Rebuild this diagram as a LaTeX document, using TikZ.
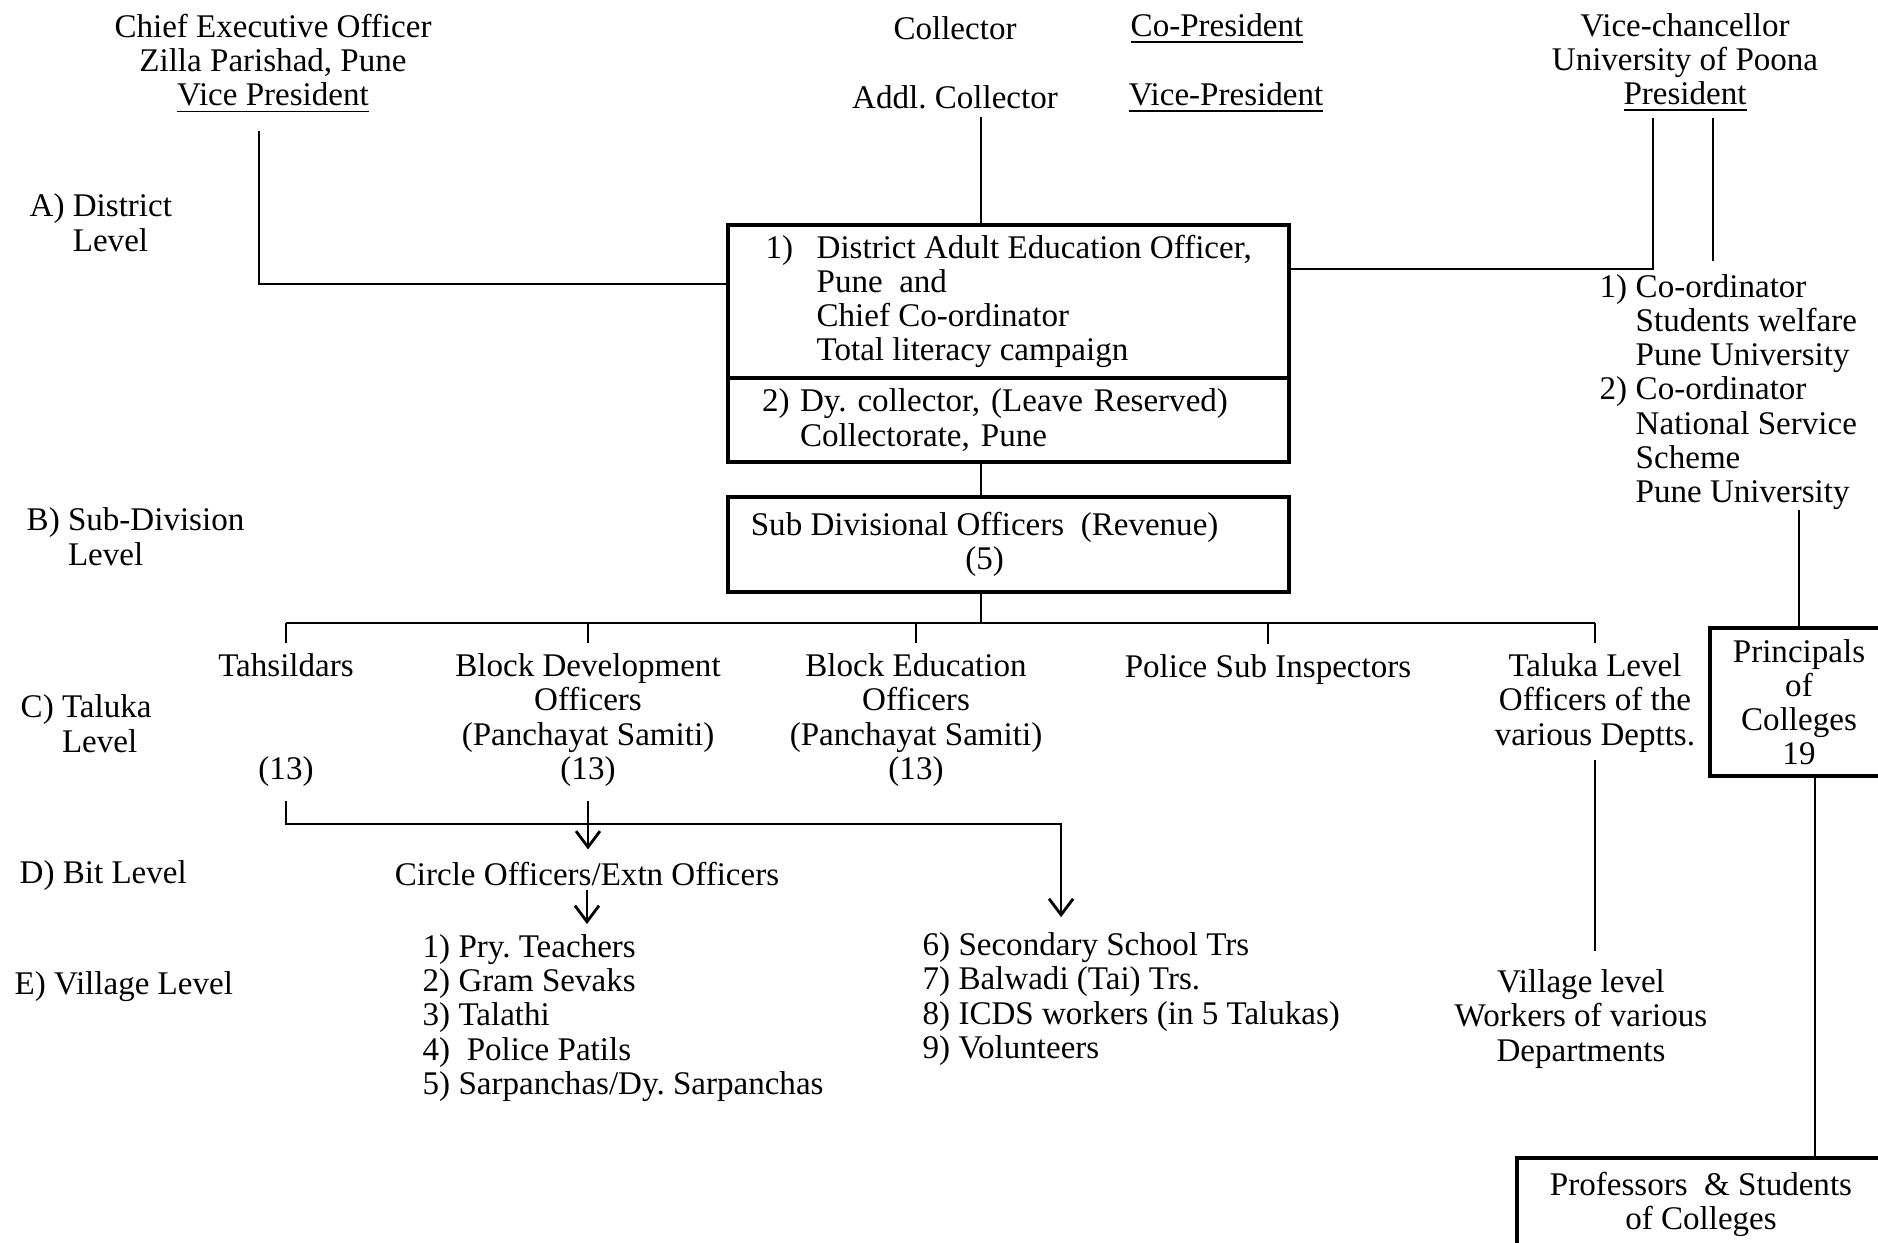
\documentclass[tikz,border=0pt]{standalone}
\usepackage{fontspec}
\setmainfont{Liberation Serif}
\usetikzlibrary{arrows.meta,positioning}
\newcommand{\dtxt}{\fontsize{9.4}{9.7}\selectfont\frenchspacing}
\tikzset{
    lbl/.style =    {inner sep=0pt,
                    align=center,
                    text=black,
                    font=\dtxt},
    lvl/.style =    {lbl,
                    align=left,
                    anchor=west},
    box/.style =    {rectangle,
                    draw=black,
                    very thick,
                    outer sep=0pt,
                    inner ysep=0pt,
                    text=black,
                    font=\dtxt},
    link/.style =   {thick,
                    draw=black},
    >={Straight Barb[length=1.6mm,width=2.4mm]}
}

\begin{document}
\begin{tikzpicture}[x=0.01cm, y=-0.01cm]
    \useasboundingbox (0,0) rectangle (1878,1243);

    % level captions
    \node[lvl] (LA) at (29,226)   {A) District\\\phantom{A) }Level};
    \node[lvl] (LB) at (26,540)   {B) Sub-Division\\\phantom{B) }Level};
    \node[lvl] (LC) at (20,727)   {C) Taluka\\\phantom{C) }Level};
    \node[lvl] (LD) at (19,876)   {D) Bit Level};
    \node[lvl] (LE) at (14,987)   {E) Village Level};

    % heads
    \node[lbl] (CEO) at (273,64)  {Chief Executive Officer\\Zilla Parishad, Pune\\\underline{Vice President}};
    \node[lbl] (COL) at (955,28)  {Collector};
    \node[lbl] (ADC) at (955,97)  {Addl. Collector};
    \node[lbl] (COP) at (1217,29) {\underline{Co-President}};
    \node[lbl] (VPR) at (1226,98) {\underline{Vice-President}};
    \node[lbl] (VC)  at (1685,63) {Vice-chancellor\\University of Poona\\\underline{President}};

    % district boxes
    \node[box, anchor=north west, minimum width=5.61cm, minimum height=1.53cm, align=left]
        (DAEO) at (728,225) {\makebox[5.1mm][l]{1)}District Adult Education Officer,\\
                             \hspace*{5.1mm}Pune\ \ and\\
                             \hspace*{5.1mm}Chief Co-ordinator\\
                             \hspace*{5.1mm}Total literacy campaign};
    \node[box, inner xsep=3.4mm, text width=4.93cm, minimum height=0.84cm, align=left]
        (DYC) [below=0pt of DAEO] {\makebox[3.8mm][l]{2)}Dy. collector, (Leave Reserved)\\
                                   \hspace*{3.8mm}Collectorate, Pune};
    \node[box, minimum width=5.61cm, minimum height=0.95cm, align=center]
        (SDO) [below=3.5mm of DYC] {Sub Divisional Officers\ \ (Revenue)\hspace*{4.8mm}\\(5)\hspace*{4.8mm}};

    \node[lvl] (COORD) at (1599,392) {\makebox[3.6mm][l]{1)}Co-ordinator\\
                                      \hspace*{3.6mm}Students welfare\\
                                      \hspace*{3.6mm}Pune University\\
                                      \makebox[3.6mm][l]{2)}Co-ordinator\\
                                      \hspace*{3.6mm}National Service\\
                                      \hspace*{3.6mm}Scheme\\
                                      \hspace*{3.6mm}Pune University};

    % taluka level
    \node[lbl] (TAH) at (286,720)  {Tahsildars\\[2\baselineskip](13)};
    \node[lbl] (BDO) at (588,720)  {Block Development\\Officers\\(Panchayat Samiti)\\(13)};
    \node[lbl] (BEO) at (916,720)  {Block Education\\Officers\\(Panchayat Samiti)\\(13)};
    \node[lbl] (PSI) at (1268,670) {Police Sub Inspectors};
    \node[lbl] (TLO) at (1595,703) {Taluka Level\\Officers of the\\various Deptts.};
    \node[box, minimum width=1.78cm, minimum height=1.48cm, align=center]
        (PRIN) at (1799,702) {Principals\\of\\Colleges\\19};

    % bit and village level
    \node[lbl] (CIR)   at (587,874)   {Circle Officers/Extn Officers};
    \node[lvl] (LIST1) at (422,1018)  {1) Pry. Teachers\\2) Gram Sevaks\\3) Talathi\\4)\ \ Police Patils\\5) Sarpanchas/Dy. Sarpanchas};
    \node[lvl] (SEC)   at (922,999)   {6) Secondary School Trs\\7) Balwadi (Tai) Trs.\\8) ICDS workers (in 5 Talukas)\\9) Volunteers};
    \node[lbl] (VIL)   at (1581,1019) {Village level\\Workers of various\\Departments};
    \node[box, minimum width=3.68cm, minimum height=0.92cm, align=center]
        (PROF) at (1701,1204) {Professors\ \ \& Students\\of Colleges};

    \coordinate (bus) at (0,623);
    \coordinate (bit) at (0,824);

    % connectors
    \draw[link] ([xshift=-1.4mm,yshift=-1.7mm]CEO.south) |- ([yshift=1.75mm]DAEO.west);
    \draw[link] ([xshift=2.6mm,yshift=-0.8mm]ADC.south) coordinate (c1) -- (c1 |- DAEO.north);
    \draw[link] ([yshift=3.25mm]DAEO.east) -| ([xshift=-3.2mm,yshift=-0.5mm]VC.south);
    \draw[link, shorten >=1.3mm] ([xshift=2.8mm,yshift=-0.5mm]VC.south) coordinate (v2) -- (v2 |- COORD.north);
    \draw[link] (DYC.south -| c1) -- (SDO.north -| c1);
    \draw[link] (SDO.south -| c1) -- (c1 |- bus);
    \draw[link] (TAH.north |- bus) -- (TLO.north |- bus);
    \foreach \n in {TAH,BDO,BEO,PSI,TLO}
        \draw[link, shorten >=1mm] (\n.north |- bus) -- (\n.north);
    \draw[link] (PRIN.north) -- (PRIN.north |- COORD.south);
    \draw[link] ([xshift=1.6mm]PRIN.south) coordinate (p1) -- (p1 |- PROF.north);

    \draw[link, ->, shorten <=1.4mm] (TAH.south) -- (TAH.south |- bit) -| ([xshift=13.9mm,yshift=1.5mm]SEC.north west);
    \draw[link, ->, shorten <=1.4mm, shorten >=1.2mm] (BDO.south) -- (BDO.south |- CIR.north);
    \draw[link, ->, shorten <=0.3mm, shorten >=1mm] (CIR.south) -- (CIR.south |- LIST1.north);
    \draw[link, shorten <=0.7mm, shorten >=1.8mm] (TLO.south) -- (TLO.south |- VIL.north);
\end{tikzpicture}
\end{document}
